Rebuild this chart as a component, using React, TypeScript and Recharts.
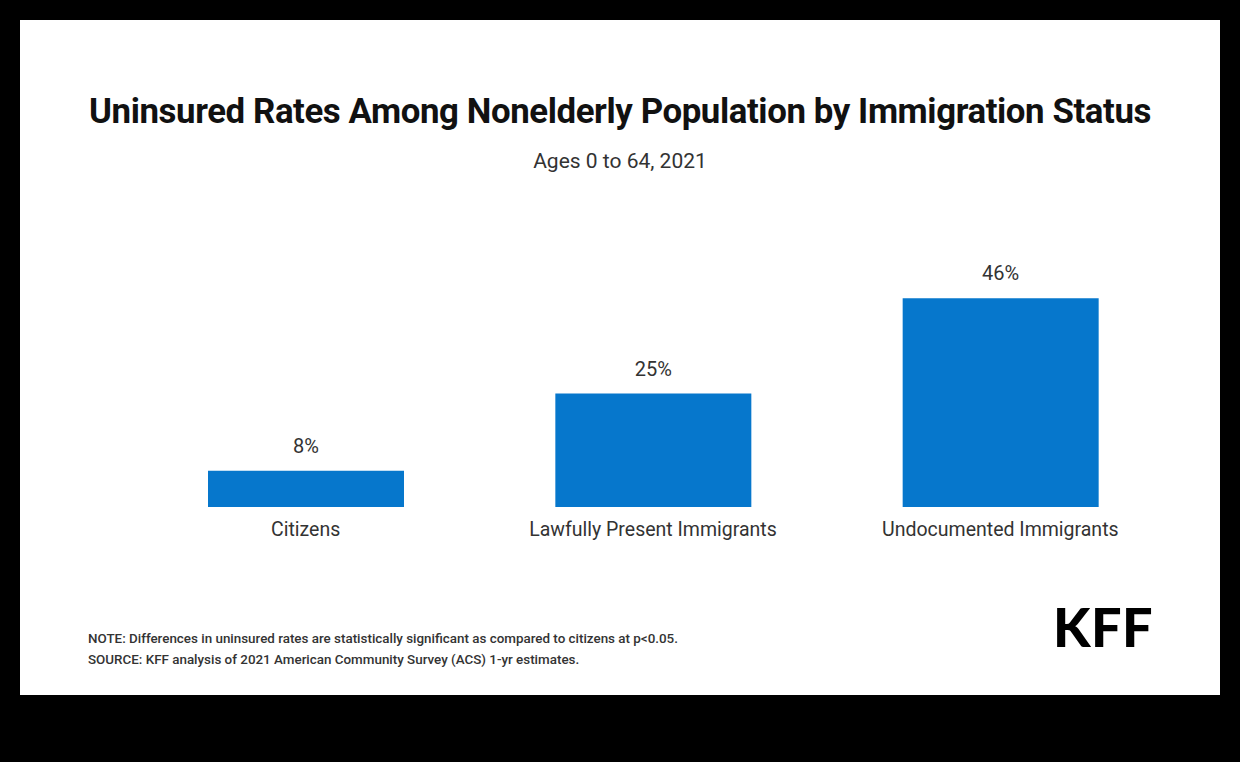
import React from "react";
import { BarChart, Bar, XAxis, YAxis, LabelList } from "recharts";

const categories = ["Citizens", "Lawfully Present Immigrants", "Undocumented Immigrants"];
const rates = [8, 25, 46];

const data = categories.map((name, i) => ({ name, rate: rates[i] }));

const FONT = "Roboto, 'Noto Sans', sans-serif";

export default function App() {
  return (
    <div
      style={{
        position: "fixed",
        left: 0,
        top: 0,
        width: 1240,
        height: 762,
        background: "#000",
        fontFamily: FONT,
      }}
    >
      <div
        style={{
          position: "absolute",
          left: 20,
          top: 20,
          width: 1200,
          height: 675,
          background: "#fff",
        }}
      >
        {/* title */}
        <div
          style={{
            position: "absolute",
            left: 0,
            top: 71,
            width: 1200,
            textAlign: "center",
            fontSize: 34.8,
            fontWeight: 700,
            color: "#111",
            letterSpacing: -0.4,
          }}
        >
          Uninsured Rates Among Nonelderly Population by Immigration Status
        </div>
        <div
          style={{
            position: "absolute",
            left: 0,
            top: 129,
            width: 1200,
            textAlign: "center",
            fontSize: 21,
            color: "#333",
          }}
        >
          Ages 0 to 64, 2021
        </div>

        <div style={{ position: "absolute", left: 112, top: 220 }}>
          <BarChart
            width={1042}
            height={327}
            data={data}
            margin={{ top: 40, right: 0, bottom: 0, left: 0 }}
            barCategoryGap={0}
          >
            <YAxis hide domain={[0, 50]} />
            <XAxis
              dataKey="name"
              axisLine={false}
              tickLine={false}
              tickMargin={9}
              height={60}
              interval={0}
              tick={{ fontSize: 19.5, fill: "#333", fontFamily: FONT }}
            />
            <Bar dataKey="rate" fill="#0677CC" barSize={196} isAnimationActive={false}>
              <LabelList
                dataKey="rate"
                position="top"
                offset={18}
                formatter={(v: number) => `${v}%`}
                style={{ fontSize: 20, fill: "#333", fontFamily: FONT }}
              />
            </Bar>
          </BarChart>
        </div>

        <div
          style={{
            position: "absolute",
            left: 68,
            top: 608,
            fontSize: 13.4,
            lineHeight: "21px",
            color: "#333",
            fontWeight: 500,
          }}
        >
          <div>NOTE: Differences in uninsured rates are statistically significant as compared to citizens at p&lt;0.05.</div>
          <div>SOURCE: KFF analysis of 2021 American Community Survey (ACS) 1-yr estimates.</div>
        </div>

        <div
          style={{
            position: "absolute",
            left: 1033,
            top: 574,
            fontFamily: "Lato, Roboto, sans-serif",
            fontSize: 54,
            fontWeight: 900,
            color: "#000",
            letterSpacing: 0.5,
          }}
        >
          KFF
        </div>
      </div>
    </div>
  );
}
